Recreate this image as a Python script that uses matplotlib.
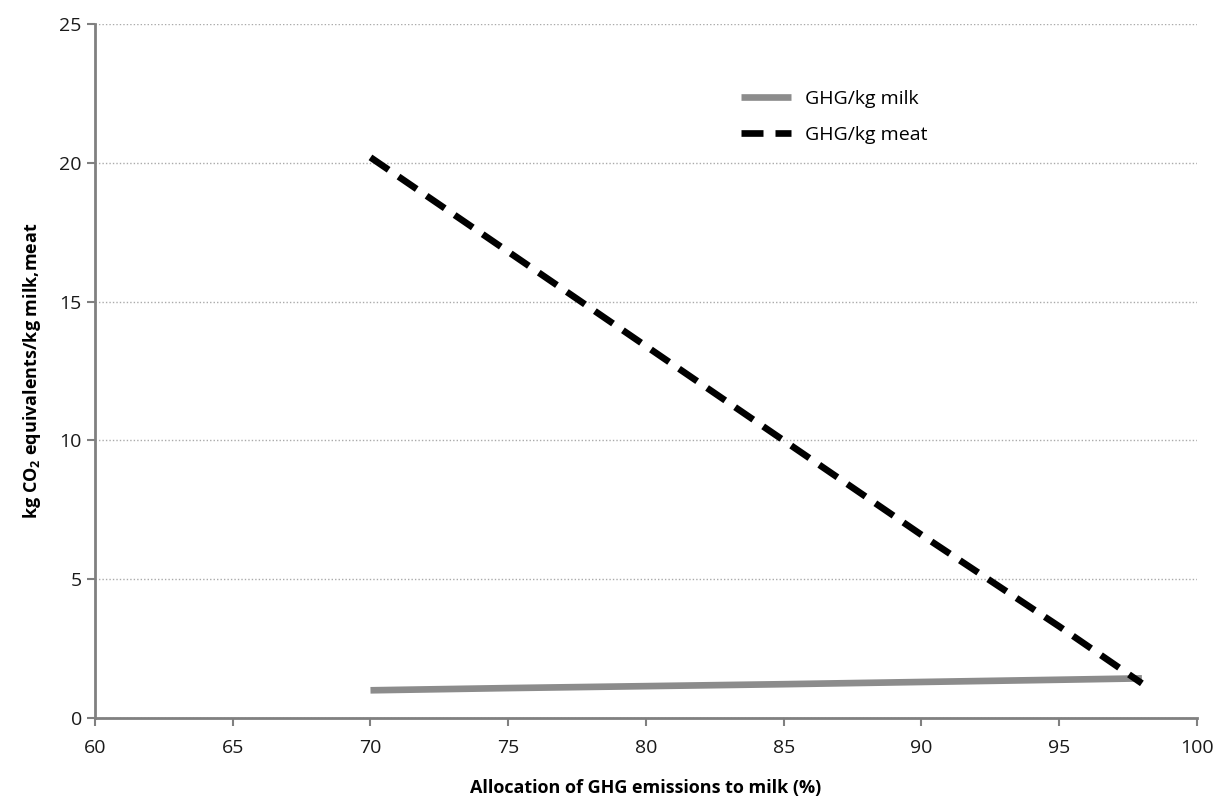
import matplotlib.pyplot as plt

plt.rcParams['font.family'] = ['Open Sans', 'DejaVu Sans']

# allocation to milk (%)
allocation = [70, 75, 80, 85, 90, 95, 98]
ghg_milk = [1.0, 1.08, 1.15, 1.22, 1.3, 1.38, 1.43]
ghg_meat = [20.2, 16.8, 13.4, 10.0, 6.6, 3.3, 1.25]

x_ticks = [60, 65, 70, 75, 80, 85, 90, 95, 100]
y_ticks = [0, 5, 10, 15, 20, 25]

fig = plt.figure(figsize=(12.13, 8.05), dpi=100)
ax = fig.add_axes([0.0783, 0.108, 0.9085, 0.862])

ax.plot(allocation, ghg_milk, color='#8c8c8c', linewidth=4.8,
        solid_capstyle='butt', label='GHG/kg milk')
ax.plot(allocation, ghg_meat, color='black', linewidth=4.8,
        dashes=(3.3, 1.8), dash_capstyle='butt', label='GHG/kg meat')

ax.set_xlim(60, 100)
ax.set_ylim(0, 25)
ax.set_xticks(x_ticks)
ax.set_yticks(y_ticks)
ax.tick_params(axis='both', labelsize=14, colors='#808080', labelcolor='#1a1a1a',
               length=6, width=1.5, direction='out')
ax.tick_params(axis='x', pad=9)
for lab in ax.get_xticklabels() + ax.get_yticklabels():
    lab.set_fontweight('medium')

for s in ['top', 'right']:
    ax.spines[s].set_visible(False)
for s in ['left', 'bottom']:
    ax.spines[s].set_color('#808080')
    ax.spines[s].set_linewidth(2)

ax.yaxis.grid(True, linestyle=(0, (1, 1.5)), color='#aaaaaa', linewidth=1)
ax.set_axisbelow(True)

ax.set_xlabel('Allocation of GHG emissions to milk (%)', fontsize=13,
              fontweight='bold', labelpad=16)
ax.set_ylabel('kg CO$_\\mathregular{2}$ equivalents/kg milk,meat', fontsize=13,
              fontweight='bold', labelpad=12)

ax.legend(loc='upper left', bbox_to_anchor=(0.57, 0.93), frameon=False,
          fontsize=14, handlelength=2.6, labelspacing=0.9, handletextpad=0.7)

fig.savefig('out.png', dpi=100)
